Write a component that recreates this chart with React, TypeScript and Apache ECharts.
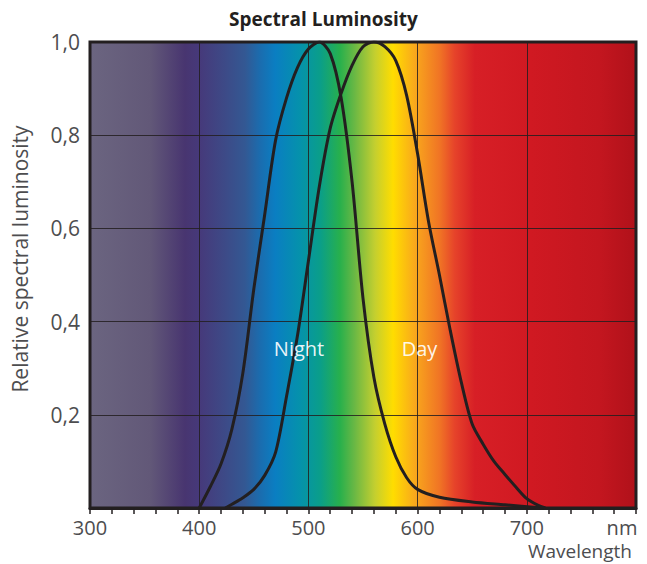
import React, { useEffect, useRef } from "react";
import * as echarts from "echarts";

// Scotopic (night) curve
const nightNm = [400, 410, 420, 430, 440, 450, 460, 470, 480, 490, 500, 510, 520, 530, 540, 550, 560, 570, 580, 590, 600, 620, 650, 680, 715];
const nightVal = [0, 0.045, 0.095, 0.17, 0.29, 0.47, 0.63, 0.79, 0.88, 0.945, 0.985, 1.0, 0.975, 0.88, 0.7, 0.45, 0.28, 0.18, 0.11, 0.065, 0.04, 0.023, 0.013, 0.007, 0];

// Photopic (day) curve
const dayNm = [424, 430, 440, 450, 460, 470, 480, 490, 500, 510, 520, 530, 540, 550, 560, 570, 580, 590, 600, 610, 620, 630, 640, 650, 660, 670, 680, 690, 700, 710, 717];
const dayVal = [0, 0.008, 0.022, 0.04, 0.07, 0.12, 0.24, 0.37, 0.53, 0.69, 0.815, 0.89, 0.95, 0.99, 1.0, 0.99, 0.96, 0.885, 0.76, 0.615, 0.5, 0.38, 0.27, 0.18, 0.137, 0.1, 0.072, 0.045, 0.02, 0.006, 0];

const xTickValues = [300, 400, 500, 600, 700, 800];
const xTickLabels = ["300", "400", "500", "600", "700", "nm"];
const yTickValues = [0, 0.2, 0.4, 0.6, 0.8, 1.0];
const yTickLabels = ["", "0,2", "0,4", "0,6", "0,8", "1,0"];

const curveLabels = ["Night", "Day"];
const curveLabelPos = [
  [491.4, 0.342],
  [601.7, 0.342],
];

const spectrumStops: [number, string][] = [
  [0, "#6b6580"],
  [0.11, "#625878"],
  [0.174, "#483570"],
  [0.2, "#46397a"],
  [0.247, "#3d4a87"],
  [0.284, "#335893"],
  [0.311, "#1b6cae"],
  [0.339, "#0a7ec2"],
  [0.385, "#0592ab"],
  [0.421, "#0a9e8a"],
  [0.458, "#28b04c"],
  [0.485, "#6bb844"],
  [0.522, "#c4cf2f"],
  [0.555, "#ffdd00"],
  [0.595, "#f9a81c"],
  [0.641, "#f07325"],
  [0.668, "#e6432a"],
  [0.705, "#d71f26"],
  [0.806, "#d01922"],
  [0.934, "#c3161f"],
  [1, "#b0111a"],
];

const FONT = "'Open Sans', 'Noto Sans', sans-serif";
const TEXT = "#4d4d4f";
const DARK = "#231f20";

export default function App() {
  const ref = useRef<HTMLDivElement>(null);
  useEffect(() => {
    if (!ref.current) return;
    const chart = echarts.init(ref.current, undefined, { renderer: "svg" });
    const bg = new echarts.graphic.LinearGradient(
      0, 0, 1, 0,
      spectrumStops.map(([offset, color]) => ({ offset, color }))
    );
    const lbl = (v: number, vals: number[], labs: string[]) => {
      const i = vals.findIndex((t) => Math.abs(t - v) < 1e-6);
      return i >= 0 ? labs[i] : "";
    };
    const markLabel = {
      show: true,
      position: "inside",
      color: "rgba(255,255,255,0.92)",
      fontFamily: FONT,
      fontSize: 20,
      formatter: "{b}",
    };
    chart.setOption({
      animation: false,
      title: {
        text: "Spectral Luminosity",
        left: "center",
        top: 4,
        textStyle: { fontFamily: FONT, fontWeight: "bold", fontSize: 19, color: DARK },
      },
      grid: {
        left: 90,
        top: 42,
        width: 546,
        height: 466,
        outerBoundsMode: "none",
        containLabel: false,
        show: true,
        borderWidth: 3,
        borderColor: DARK,
        backgroundColor: bg,
      },
      graphic: [
        {
          type: "text",
          right: 15,
          top: 541,
          style: {
            text: "Wavelength",
            fontFamily: FONT,
            fontSize: 19,
            fill: TEXT,
          },
        },
      ],
      xAxis: {
        type: "value",
        min: 300,
        max: 800,
        interval: 100,
        axisLine: { show: true, lineStyle: { color: DARK, width: 3 } },
        axisTick: { show: true, length: 6, lineStyle: { color: DARK, width: 1.5 } },
        minorTick: { show: true, splitNumber: 5, length: 6, lineStyle: { color: DARK, width: 1.5 } },
        splitLine: { show: true, lineStyle: { color: "rgba(35,31,32,0.85)", width: 1 } },
        axisLabel: {
          fontFamily: FONT,
          fontSize: 20,
          color: TEXT,
          margin: 9,
          formatter: (v: number) => {
            const s = lbl(v, xTickValues, xTickLabels);
            return s === "nm" ? "{nm|nm}" : s;
          },
          rich: {
            nm: { fontFamily: FONT, fontSize: 20, color: TEXT, padding: [0, 28, 0, 0] },
          },
        },
      },
      yAxis: {
        type: "value",
        min: 0,
        max: 1,
        interval: 0.2,
        axisLine: { show: false },
        axisTick: { show: false },
        splitLine: { show: true, lineStyle: { color: "rgba(35,31,32,0.85)", width: 1 } },
        axisLabel: {
          fontFamily: FONT,
          fontSize: 21,
          color: TEXT,
          margin: 10,
          formatter: (v: number) => lbl(v, yTickValues, yTickLabels),
        },
        name: "Relative spectral luminosity",
        nameLocation: "middle",
        nameGap: 60,
        nameTextStyle: {
          fontFamily: FONT,
          fontSize: 21,
          color: TEXT,
          padding: [0, 0, 0, 32],
        },
      },
      series: [
        {
          name: curveLabels[0],
          type: "line",
          data: nightNm.map((x, i) => [x, nightVal[i]]),
          showSymbol: false,
          symbol: "none",
          smooth: 0.3,
          lineStyle: { color: DARK, width: 3 },
          z: 3,
          markPoint: {
            symbol: "circle",
            symbolSize: 0,
            silent: true,
            label: markLabel,
            data: [{ name: curveLabels[0], coord: curveLabelPos[0] }],
          },
        },
        {
          name: curveLabels[1],
          type: "line",
          data: dayNm.map((x, i) => [x, dayVal[i]]),
          showSymbol: false,
          symbol: "none",
          smooth: 0.3,
          lineStyle: { color: DARK, width: 3 },
          z: 3,
          markPoint: {
            symbol: "circle",
            symbolSize: 0,
            silent: true,
            label: markLabel,
            data: [{ name: curveLabels[1], coord: curveLabelPos[1] }],
          },
        },
      ],
    });
    return () => chart.dispose();
  }, []);
  return (
    <div
      ref={ref}
      style={{ position: "absolute", left: 0, top: 0, width: 647, height: 564 }}
    />
  );
}
